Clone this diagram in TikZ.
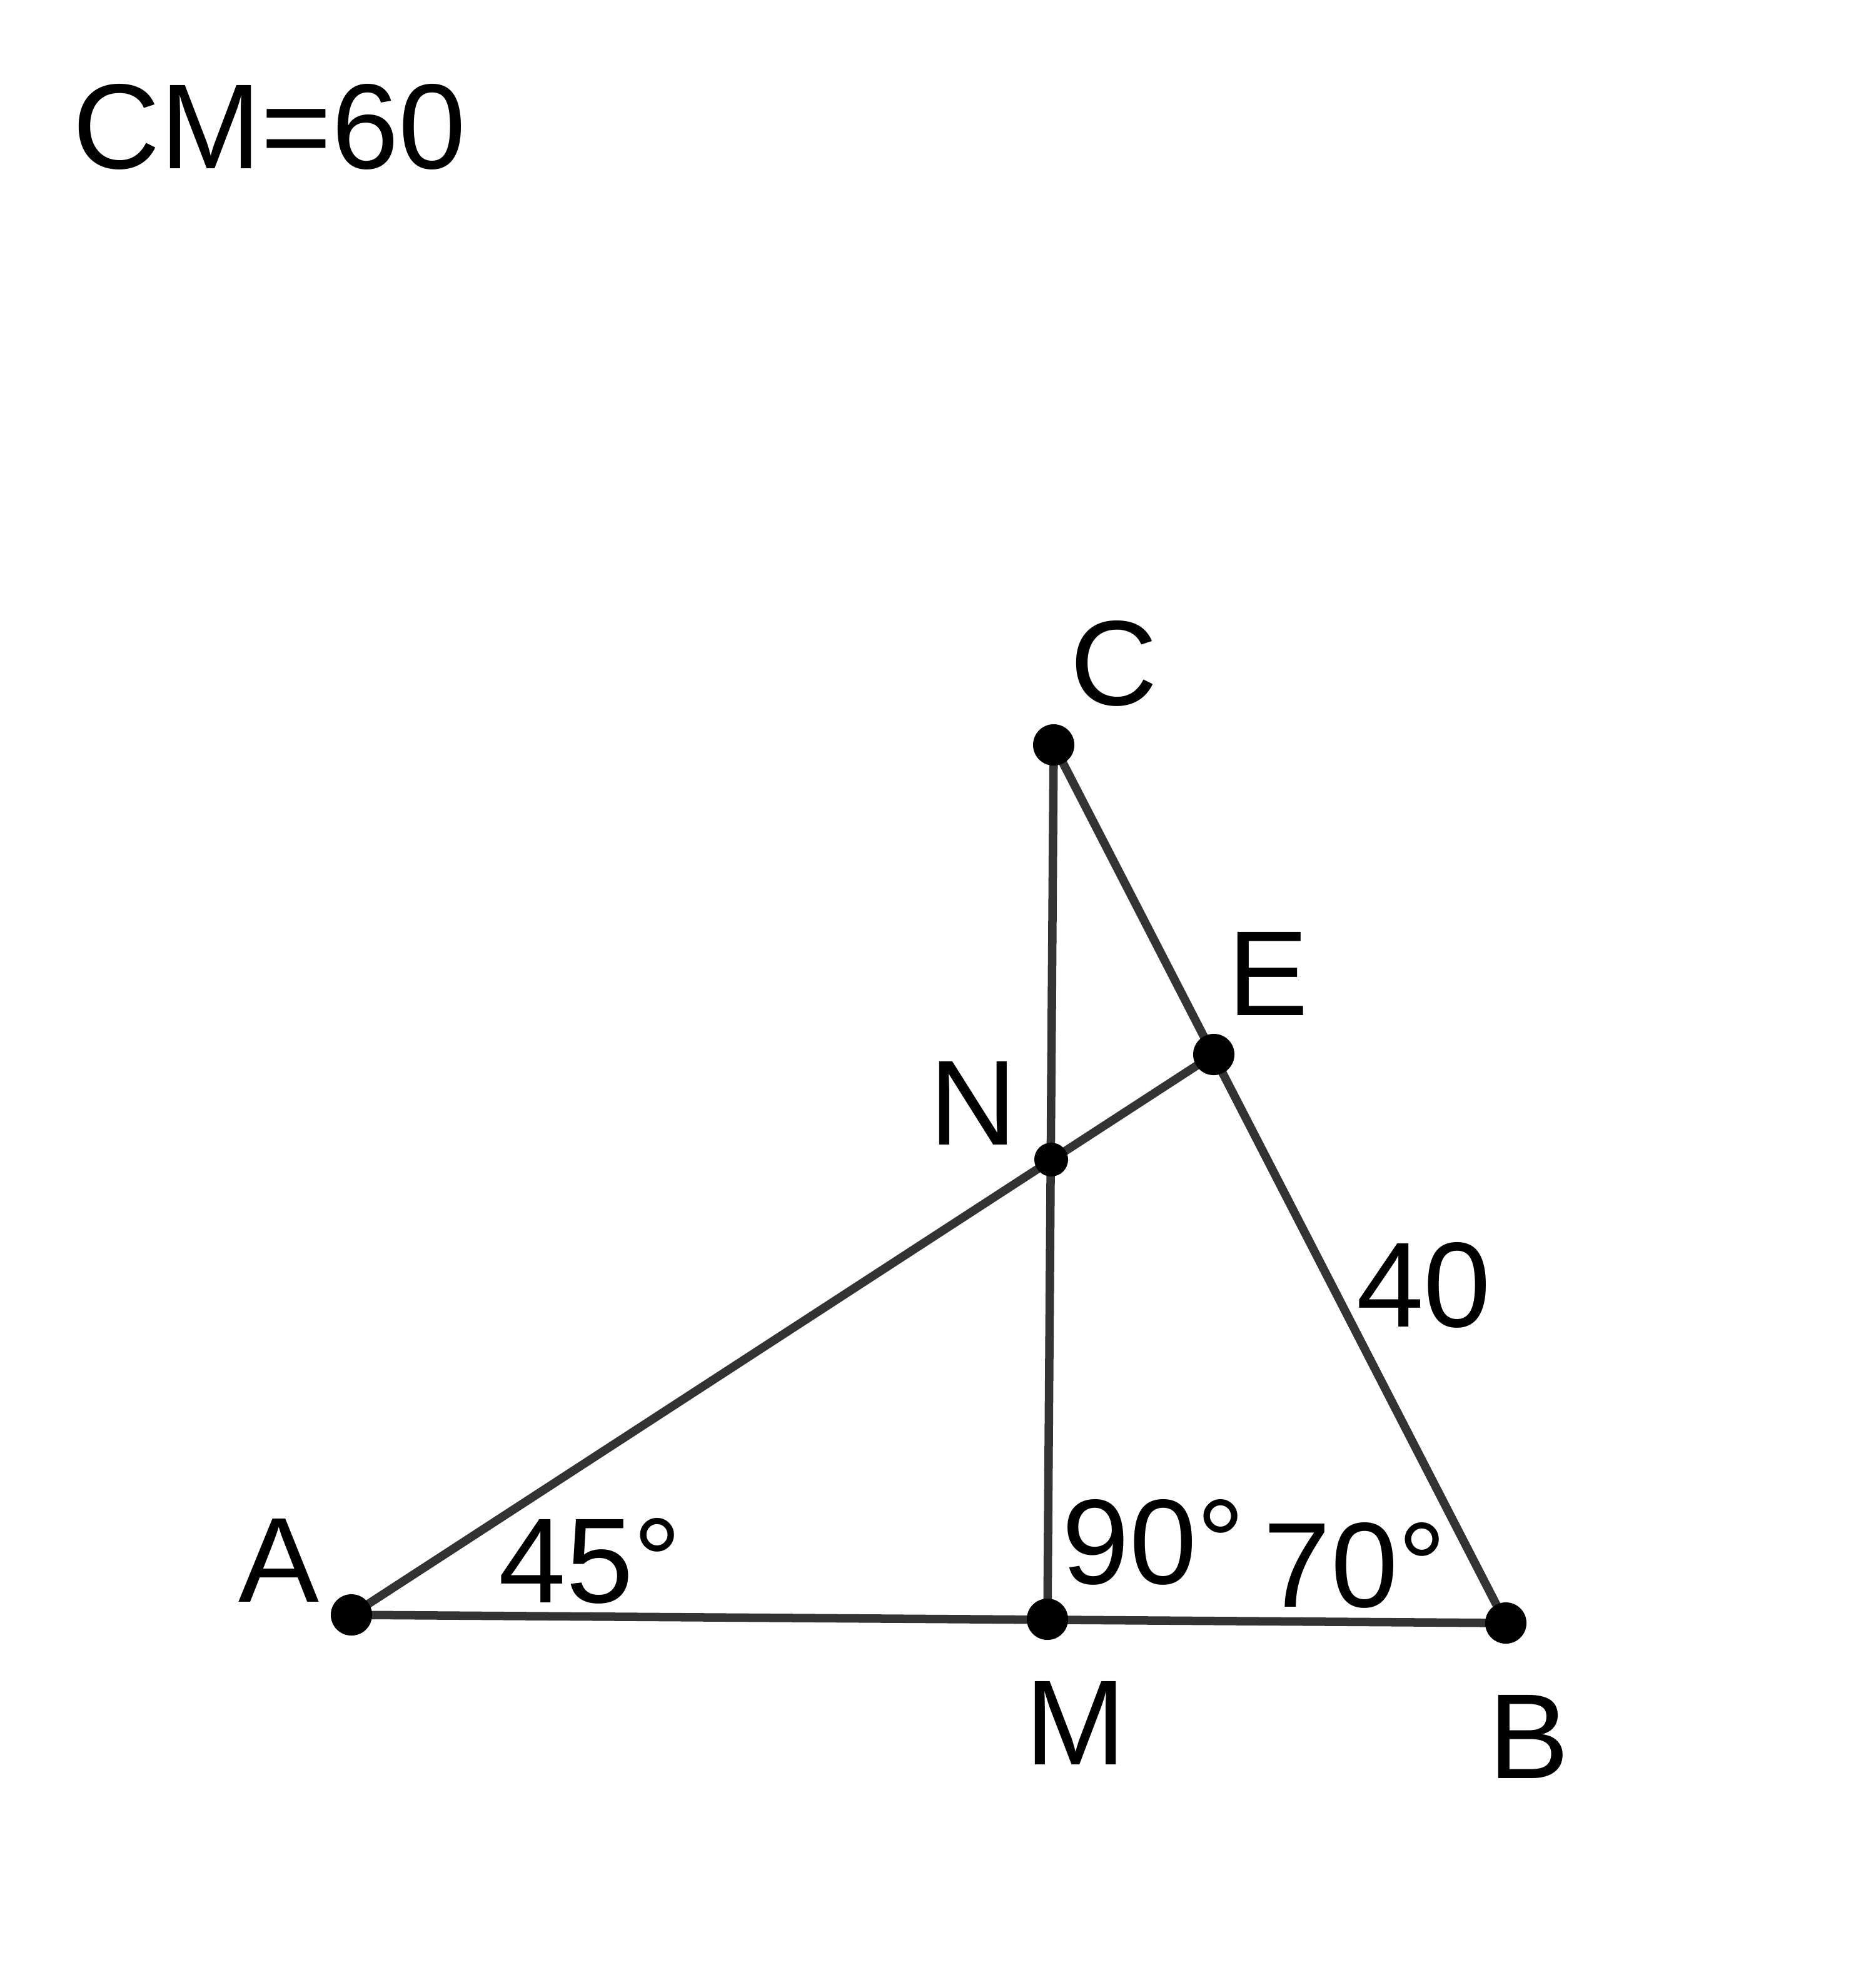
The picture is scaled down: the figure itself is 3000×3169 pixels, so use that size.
\documentclass[tikz,border=0pt]{standalone}
\usepackage{fontspec}
\setmainfont{Liberation Sans}
\begin{document}
\begin{tikzpicture}[x=0.01cm,y=-0.01cm,
  seg/.style={draw=black!80, line width=0.135cm},
  pt/.style={circle, fill=black, inner sep=0pt, minimum size=0.66cm},
  smallpt/.style={circle, fill=black, inner sep=0pt, minimum size=0.54cm},
  lbl/.style={inner sep=0pt, font=\fontsize{55}{66}\selectfont}]
\useasboundingbox (0,0) rectangle (3000,3169);
\coordinate (A) at (562,2582);
\coordinate (M) at (1675,2589);
\coordinate (B) at (2408,2595);
\coordinate (C) at (1685,1191);
\coordinate (E) at (1941,1686);
\coordinate (N) at (1681,1854);
\draw[seg] (A) -- (B);
\draw[seg] (C) -- (B);
\draw[seg] (C) -- (M);
\draw[seg] (A) -- (E);
\node[pt] (pA) at (A) {};
\node[pt] (pM) at (M) {};
\node[pt] (pB) at (B) {};
\node[pt] (pC) at (C) {};
\node[pt] (pE) at (E) {};
\node[smallpt] (pN) at (N) {};
\node[lbl] (t0) at (431,203) {CM=60};
\node[lbl] (tC) at (1781,1061) {C};
\node[lbl] (tE) at (2028,1557) {E};
\node[lbl] (tN) at (1556,1764) {N};
\node[lbl] (t40) at (2277,2055) {40};
\node[lbl] (tA) at (446,2495) {A};
\node[lbl] (t45) at (944,2496) {45°};
\node[lbl] (t90) at (1845,2466) {90°};
\node[lbl] (t70) at (2167,2503) {70°};
\node[lbl] (tM) at (1720,2755) {M};
\node[lbl] (tB) at (2445,2777) {B};
\end{tikzpicture}
\end{document}
